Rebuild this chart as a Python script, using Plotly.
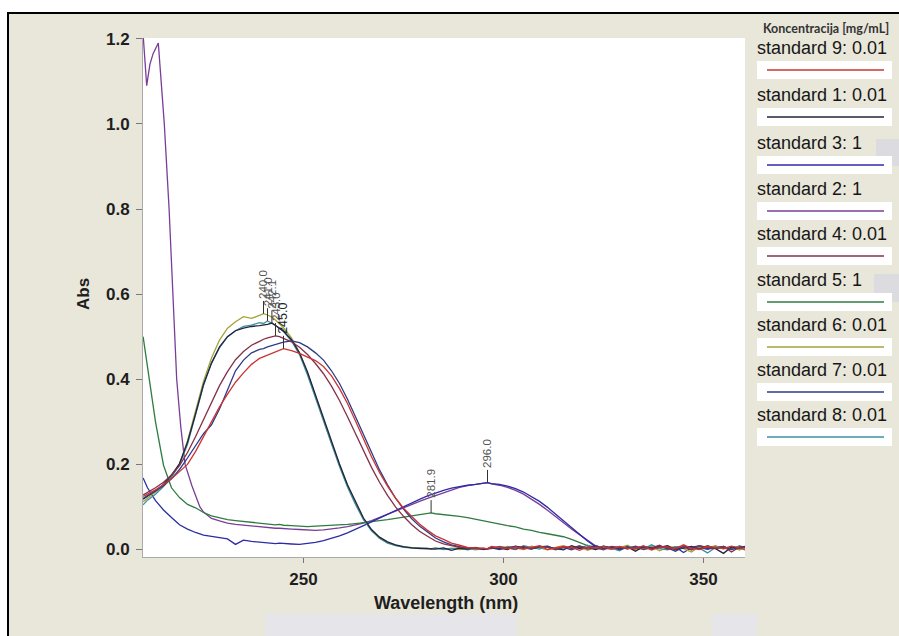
import plotly.graph_objects as go

# ---------------------------------------------------------------- data
# common wavelength grid (nm)
NM = [209.9, 211, 213, 215, 217, 219, 221, 223, 225, 227, 229, 231, 233, 235, 237, 239,
      240, 241, 242.1, 243, 244, 245,
      247, 249, 251, 253, 255, 257, 259, 261, 263, 265, 267, 269, 271, 273, 275, 277, 279, 281,
      281.9,
      283, 285, 287, 289, 291, 293, 295,
      296,
      297, 299, 301, 303, 305, 307, 309, 311, 313, 315, 317, 319, 321, 323, 325, 327, 329, 331,
      333, 335, 337, 339, 341, 343, 345, 347, 349, 351, 353, 355, 357, 359, 361, 363, 365]

STD9 = [0.125, 0.130, 0.140, 0.152, 0.166, 0.183, 0.200, 0.230, 0.265, 0.300, 0.335, 0.365, 0.393, 0.415, 0.435, 0.449,
        0.453, 0.456, 0.462, 0.465, 0.469, 0.472,
        0.467, 0.461, 0.452, 0.444, 0.430, 0.408, 0.378, 0.343, 0.302, 0.260, 0.218, 0.181, 0.149, 0.121, 0.097, 0.078, 0.060, 0.045,
        0.039,
        0.032, 0.024, 0.015, 0.010, 0.005, 0.004, 0.002,
        0.002,
        0.007, 0.004, 0.002, 0.006, 0.001, 0.005, 0.009, 0.000, 0.003, 0.007, 0.005, -0.002, 0.006, 0.004, 0.008, 0.001, 0.007,
        0.003, 0.002, 0.009, -0.001, 0.005, 0.006, 0.001, 0.011, 0.003, 0.000, 0.007, 0.005, 0.002, 0.008, 0.004, -0.003, 0.006, 0.005]

STD1 = [0.118, 0.125, 0.138, 0.153, 0.174, 0.202, 0.252, 0.318, 0.388, 0.438, 0.476, 0.500, 0.514, 0.520, 0.524, 0.526,
        0.527, 0.529, 0.532, 0.526, 0.521, 0.513,
        0.493, 0.462, 0.417, 0.363, 0.308, 0.252, 0.201, 0.152, 0.111, 0.074, 0.047, 0.029, 0.018, 0.011, 0.007, 0.004, 0.003, 0.002,
        0.003,
        0.001, 0.004, -0.002, 0.003, 0.001, 0.005, 0.000,
        0.002,
        0.005, 0.003, 0.000, 0.008, 0.004, 0.001, 0.007, 0.006, 0.002, -0.001, 0.009, 0.003, 0.005, 0.000, 0.008, 0.004, 0.001,
        0.006, -0.004, 0.007, 0.003, 0.005, 0.009, 0.000, 0.004, 0.007, 0.001, 0.008, 0.002, -0.009, 0.006, 0.003, 0.007, 0.001, 0.005]

STD3 = [0.168, 0.145, 0.115, 0.093, 0.075, 0.058, 0.048, 0.040, 0.034, 0.031, 0.028, 0.025, 0.012, 0.022, 0.019, 0.017,
        0.017, 0.016, 0.015, 0.014, 0.015, 0.014,
        0.013, 0.012, 0.014, 0.017, 0.021, 0.026, 0.032, 0.039, 0.047, 0.056, 0.065, 0.074, 0.083, 0.092, 0.101, 0.110, 0.118, 0.126,
        0.129,
        0.133, 0.139, 0.144, 0.148, 0.151, 0.153, 0.155,
        0.157,
        0.155, 0.153, 0.149, 0.143, 0.135, 0.125, 0.113, 0.099, 0.084, 0.068, 0.052, 0.036, 0.020, 0.007, 0.003, 0.001, 0.004,
        0.006, -0.001, 0.005, 0.003, 0.008, 0.002, 0.006, -0.007, 0.004, 0.007, 0.001, 0.005, 0.003, 0.006, 0.000, 0.008, 0.004, 0.002]

# standard 2 has its own sampling below 225 nm, then follows NM from 225 nm on
STD2_HEAD_NM = [209.9, 210.8, 211.6, 212.4, 213.7, 215.2, 216.4, 217.3, 218.3, 219.3, 220.4, 222.1, 224.1]
STD2_HEAD = [1.21, 1.09, 1.14, 1.165, 1.19, 1.00, 0.80, 0.60, 0.40, 0.29, 0.20, 0.15, 0.10]
STD2 = [0.088, 0.073, 0.067, 0.062, 0.059, 0.057, 0.055, 0.054,
        0.053, 0.052, 0.051, 0.050, 0.050, 0.049,
        0.048, 0.047, 0.046, 0.045, 0.046, 0.048, 0.051, 0.054, 0.058, 0.062, 0.068, 0.075, 0.082, 0.090, 0.098, 0.106, 0.113, 0.120,
        0.123,
        0.127, 0.134, 0.141, 0.146, 0.150, 0.153, 0.155,
        0.157,
        0.154, 0.151, 0.146, 0.139, 0.130, 0.119, 0.106, 0.092, 0.077, 0.062, 0.048, 0.035, 0.021, 0.009, 0.004, 0.004, 0.006,
        0.001, 0.007, 0.003, 0.005, 0.002, 0.008, 0.000, 0.004, 0.006, 0.003, 0.001, 0.007, 0.005, 0.002, 0.006, 0.003, 0.008, 0.001]

STD4 = [0.128, 0.134, 0.145, 0.158, 0.175, 0.197, 0.228, 0.265, 0.305, 0.345, 0.385, 0.418, 0.446, 0.465, 0.480, 0.489,
        0.494, 0.497, 0.499, 0.502, 0.500, 0.496,
        0.488, 0.475, 0.458, 0.437, 0.413, 0.384, 0.350, 0.312, 0.272, 0.232, 0.193, 0.158, 0.127, 0.100, 0.078, 0.059, 0.043, 0.031,
        0.026,
        0.020, 0.013, 0.009, 0.005, 0.004, 0.002, 0.003,
        0.001,
        0.003, 0.006, 0.004, 0.001, 0.007, 0.002, 0.008, 0.005, 0.000, 0.006, 0.003, 0.009, 0.001, 0.004, -0.001, 0.007, 0.005,
        0.002, 0.008, 0.000, 0.004, 0.010, 0.001, 0.003, 0.006, -0.001, 0.009, 0.005, 0.002, 0.007, -0.006, 0.006, 0.004, 0.008, 0.003]

STD5 = [0.500, 0.430, 0.300, 0.198, 0.145, 0.122, 0.106, 0.098, 0.087, 0.079, 0.074, 0.070, 0.068, 0.066, 0.064, 0.063,
        0.062, 0.061, 0.060, 0.058, 0.059, 0.057,
        0.056, 0.055, 0.054, 0.055, 0.056, 0.056, 0.058, 0.059, 0.061, 0.063, 0.065, 0.067, 0.070, 0.073, 0.076, 0.079, 0.082, 0.084,
        0.086,
        0.084, 0.082, 0.081, 0.078, 0.075, 0.071, 0.067,
        0.065,
        0.063, 0.060, 0.056, 0.053, 0.048, 0.045, 0.040, 0.037, 0.033, 0.030, 0.024, 0.016, 0.009, 0.006, 0.004, 0.005, 0.002,
        0.007, 0.003, 0.006, 0.000, 0.008, 0.004, 0.001, 0.007, 0.005, 0.002, 0.009, 0.003, 0.006, 0.001, 0.007, 0.004, 0.000, 0.005]

STD6 = [0.112, 0.120, 0.135, 0.152, 0.175, 0.200, 0.255, 0.325, 0.395, 0.450, 0.492, 0.520, 0.535, 0.547, 0.543, 0.550,
        0.554, 0.551, 0.546, 0.539, 0.531, 0.521,
        0.497, 0.462, 0.416, 0.359, 0.306, 0.249, 0.199, 0.149, 0.109, 0.071, 0.046, 0.026, 0.016, 0.009, 0.006, 0.004, 0.003, 0.002,
        0.002,
        0.004, 0.001, 0.003, 0.000, 0.002, -0.001, 0.002,
        0.001,
        0.006, 0.001, 0.007, 0.004, 0.000, 0.008, 0.003, -0.001, 0.005, 0.009, 0.002, 0.006, -0.002, 0.005, 0.007, 0.001, 0.004,
        0.010, 0.000, 0.003, 0.008, -0.003, 0.005, 0.006, 0.002, -0.006, 0.007, 0.004, 0.009, 0.001, 0.006, -0.001, 0.008, 0.003, 0.005]

STD7 = [0.120, 0.127, 0.137, 0.150, 0.166, 0.188, 0.215, 0.245, 0.272, 0.293, 0.330, 0.375, 0.420, 0.445, 0.462, 0.470,
        0.472, 0.476, 0.479, 0.483, 0.485, 0.487,
        0.490, 0.486, 0.476, 0.462, 0.445, 0.420, 0.390, 0.353, 0.312, 0.270, 0.226, 0.187, 0.152, 0.121, 0.095, 0.073, 0.055, 0.040,
        0.034,
        0.027, 0.018, 0.011, 0.007, 0.004, 0.003, 0.001,
        0.002,
        0.004, 0.000, 0.005, 0.007, 0.003, 0.002, 0.006, 0.008, 0.001, 0.005, -0.001, 0.007, 0.004, 0.009, 0.002, 0.006, 0.000,
        0.005, 0.003, 0.007, 0.001, 0.008, 0.004, -0.004, 0.006, 0.005, 0.009, 0.002, 0.003, 0.007, 0.000, 0.005, 0.008, 0.001, 0.004]

STD8 = [0.105, 0.116, 0.130, 0.148, 0.170, 0.199, 0.247, 0.318, 0.385, 0.438, 0.474, 0.500, 0.514, 0.524, 0.527, 0.533,
        0.531, 0.537, 0.532, 0.527, 0.520, 0.512,
        0.490, 0.458, 0.410, 0.357, 0.300, 0.247, 0.195, 0.147, 0.106, 0.070, 0.044, 0.027, 0.015, 0.010, 0.005, 0.004, 0.002, 0.003,
        0.001,
        0.003, 0.000, 0.002, 0.004, -0.001, 0.002, 0.001,
        0.002,
        0.002, 0.007, 0.003, 0.000, 0.009, 0.005, 0.001, 0.008, -0.001, 0.004, 0.006, 0.002, 0.010, 0.000, 0.005, 0.003, -0.003,
        0.007, 0.004, 0.001, 0.011, 0.002, -0.001, 0.006, 0.008, 0.001, 0.003, -0.008, 0.005, 0.007, 0.000, 0.009, 0.002, 0.006, 0.004]

for s in (STD9, STD1, STD3, STD4, STD5, STD6, STD7, STD8):
    assert len(s) == len(NM), len(s)
assert len(STD2) == len(NM) - 8 and len(STD2_HEAD) == len(STD2_HEAD_NM)

LEGEND_TITLE = "Koncentracija [mg/mL]"
NAMES = ["standard 9: 0.01", "standard 1: 0.01", "standard 3: 1", "standard 2: 1", "standard 4: 0.01",
         "standard 5: 1", "standard 6: 0.01", "standard 7: 0.01", "standard 8: 0.01"]
COLORS = ["#cc3333", "#23233c", "#2c2ca6", "#7a3d98", "#84304a", "#2f7c40", "#a3a338", "#2c3c86", "#3c90a2"]

# peak markers: wavelength and the series whose maximum it marks
PEAK_NM = [240.0, 241.0, 242.1, 243.0, 245.0, 281.9, 296.0]
PEAK_SERIES = [STD6, STD8, STD1, STD4, STD9, STD5, STD3]

X_TICKS = [250, 300, 350]
Y_TICKS = [0.0, 0.2, 0.4, 0.6, 0.8, 1.0, 1.2]

# ---------------------------------------------------------------- layout helpers
W, H = 899, 636
ML, MR, MT, MB = 143, 154, 38, 79
PW, PH = W - ML - MR, H - MT - MB
BEIGE = "#E9E6DA"


def px(x):
    return (x - ML) / PW


def py(y):
    return 1 - (y - MT) / PH


series = {
    "standard 9: 0.01": (NM, STD9),
    "standard 1: 0.01": (NM, STD1),
    "standard 3: 1": (NM, STD3),
    "standard 2: 1": (STD2_HEAD_NM + NM[8:], STD2_HEAD + STD2),
    "standard 4: 0.01": (NM, STD4),
    "standard 5: 1": (NM, STD5),
    "standard 6: 0.01": (NM, STD6),
    "standard 7: 0.01": (NM, STD7),
    "standard 8: 0.01": (NM, STD8),
}
color_of = dict(zip(NAMES, COLORS))

fig = go.Figure()
draw_order = ["standard 2: 1", "standard 5: 1", "standard 3: 1", "standard 6: 0.01", "standard 8: 0.01",
              "standard 1: 0.01", "standard 7: 0.01", "standard 4: 0.01", "standard 9: 0.01"]
for name in draw_order:
    xs, ys = series[name]
    fig.add_trace(go.Scatter(x=xs, y=ys, mode="lines", name=name, showlegend=False,
                             line=dict(color=color_of[name], width=1.3)))

shapes = []
annotations = []

# peak labels with short leader lines
GAP = 0.03
for nm, s in zip(PEAK_NM, PEAK_SERIES):
    top = s[NM.index(nm)]
    shapes.append(dict(type="line", xref="x", yref="y", x0=nm, x1=nm, y0=top, y1=top + GAP,
                       line=dict(color="#333333", width=1)))
    big = nm == 245.0
    annotations.append(dict(x=nm, y=top + GAP, xref="x", yref="y", text=f"{nm:.1f}", textangle=-90,
                            showarrow=False, xanchor="center", yanchor="bottom",
                            font=dict(family="Liberation Sans, Arial", size=12.5 if big else 11.5,
                                      color="#222222" if big else "#555555")))

# outer frame
shapes += [
    dict(type="rect", xref="paper", yref="paper", x0=px(0), x1=px(W), y0=py(0), y1=py(12),
         fillcolor="white", line=dict(width=0), layer="above"),
    dict(type="rect", xref="paper", yref="paper", x0=px(0), x1=px(7), y0=py(0), y1=py(H),
         fillcolor="white", line=dict(width=0), layer="above"),
    dict(type="line", xref="paper", yref="paper", x0=px(8), x1=px(8), y0=py(12), y1=py(H),
         line=dict(color="black", width=2)),
    dict(type="line", xref="paper", yref="paper", x0=px(7), x1=px(W), y0=py(13), y1=py(13),
         line=dict(color="black", width=2)),
    # faint patches along the bottom and right edges
    dict(type="rect", xref="paper", yref="paper", x0=px(265), x1=px(517), y0=py(614), y1=py(H),
         fillcolor="#E5E5EA", line=dict(width=0)),
    dict(type="rect", xref="paper", yref="paper", x0=px(712), x1=px(757), y0=py(614), y1=py(H),
         fillcolor="#E5E5EA", line=dict(width=0)),
    dict(type="rect", xref="paper", yref="paper", x0=px(876), x1=px(W), y0=py(139), y1=py(166),
         fillcolor="#DCDCE0", line=dict(width=0)),
    dict(type="rect", xref="paper", yref="paper", x0=px(874), x1=px(W), y0=py(274), y1=py(302),
         fillcolor="#DCDCE0", line=dict(width=0)),
]

# hand-built legend column
LEG_TEXT_Y = [48, 95, 143, 189, 234, 280, 325, 370, 415]
annotations.append(dict(x=px(826), y=py(28), xref="paper", yref="paper", text=LEGEND_TITLE,
                        showarrow=False, xanchor="center", yanchor="middle",
                        font=dict(family="Lato, Liberation Sans", size=12.5, color="#333333", weight="bold")))
for name, ty in zip(NAMES, LEG_TEXT_Y):
    ly = ty + 22
    annotations.append(dict(x=px(755), y=py(ty), xref="paper", yref="paper", text=name,
                            showarrow=False, xanchor="left", yanchor="middle",
                            font=dict(family="Liberation Sans, Arial", size=18, color="#161616")))
    shapes.append(dict(type="rect", xref="paper", yref="paper", x0=px(757), x1=px(892),
                       y0=py(ly - 9), y1=py(ly + 9), fillcolor="white", line=dict(width=0)))
    shapes.append(dict(type="line", xref="paper", yref="paper", x0=px(767), x1=px(884),
                       y0=py(ly), y1=py(ly), line=dict(color=color_of[name], width=1.5)))

# axis titles
annotations.append(dict(x=px(446), y=py(603), xref="paper", yref="paper", text="Wavelength (nm)",
                        showarrow=False, xanchor="center", yanchor="middle",
                        font=dict(family="Liberation Sans, Arial", size=18, color="#1e1e1e", weight="bold")))
annotations.append(dict(x=px(83), y=py(294), xref="paper", yref="paper", text="Abs", textangle=-90,
                        showarrow=False, xanchor="center", yanchor="middle",
                        font=dict(family="Liberation Sans, Arial", size=17, color="#1e1e1e", weight="bold")))

tick_font = dict(family="Liberation Sans, Arial", size=17, color="#1e1e1e", weight="bold")
fig.update_layout(
    width=W, height=H,
    margin=dict(l=ML, r=MR, t=MT, b=MB, pad=0),
    paper_bgcolor=BEIGE, plot_bgcolor="white",
    shapes=shapes, annotations=annotations,
    xaxis=dict(range=[209.875, 360.375], tickvals=X_TICKS, ticks="outside", ticklen=5, tickcolor="#777777",
               showline=True, linecolor="#aaaaaa", linewidth=1, showgrid=False, zeroline=False,
               tickfont=tick_font, ticklabelstandoff=2),
    yaxis=dict(range=[-0.0176, 1.2018], tickvals=Y_TICKS, tickformat=".1f", ticks="outside", ticklen=6,
               tickcolor="#777777", showline=True, linecolor="#aaaaaa", linewidth=1, showgrid=False,
               zeroline=False, tickfont=tick_font, ticklabelstandoff=3),
)

fig.write_html("out.html")
